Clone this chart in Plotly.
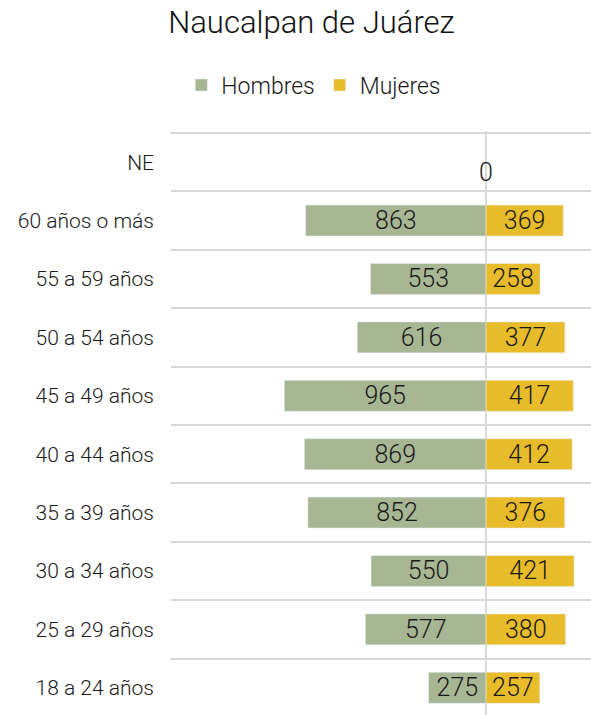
import plotly.graph_objects as go

# Age groups, top to bottom as in the chart
grupos = ['NE', '60 años o más', '55 a 59 años', '50 a 54 años', '45 a 49 años',
          '40 a 44 años', '35 a 39 años', '30 a 34 años', '25 a 29 años', '18 a 24 años']
hombres = [0, 863, 553, 616, 965, 869, 852, 550, 577, 275]
mujeres = [0, 369, 258, 377, 417, 412, 376, 421, 380, 257]

verde = '#A7B793'
oro = '#E8BC2A'
fuente = 'Roboto'
peso = 300

fig = go.Figure()

# Hombres go to the left, so plot negative values but label with the real number
fig.add_trace(go.Bar(
    y=grupos[1:], x=[-v for v in hombres[1:]], name='Hombres', orientation='h',
    marker=dict(color=verde),
    text=[str(v) for v in hombres[1:]], textposition='inside', insidetextanchor='middle',
    constraintext='none', textangle=0,
    textfont=dict(size=25, color='#1a1a1a', family=fuente, weight=peso),
    hoverinfo='skip',
))
fig.add_trace(go.Bar(
    y=grupos[1:], x=mujeres[1:], name='Mujeres', orientation='h',
    marker=dict(color=oro),
    text=[str(v) for v in mujeres[1:]], textposition='inside', insidetextanchor='middle',
    constraintext='none', textangle=0,
    textfont=dict(size=25, color='#1a1a1a', family=fuente, weight=peso),
    hoverinfo='skip',
))

# NE row has zero in both series, only the label shows
fig.add_trace(go.Scatter(
    y=grupos[:1], x=mujeres[:1], mode='text', text=[str(mujeres[0])],
    textposition='bottom center', showlegend=False,
    textfont=dict(size=25, color='#1a1a1a', family=fuente, weight=peso),
    hoverinfo='skip',
))

fig.update_layout(
    width=591, height=715,
    margin=dict(l=171, r=0, t=131, b=0),
    paper_bgcolor='white', plot_bgcolor='white',
    barmode='relative', bargap=0.47,
    font=dict(family=fuente, color='#1a1a1a', weight=peso),
    title=dict(text='Naucalpan de Juárez', x=0.527, xref='container', xanchor='center',
               y=0.969, yref='container', yanchor='middle',
               font=dict(size=31, color='#111111', family=fuente, weight=peso)),
    legend=dict(orientation='h', x=0.531, xref='container', xanchor='center',
                y=0.881, yref='container', yanchor='middle',
                font=dict(size=23, color='#1a1a1a', family=fuente, weight=peso),
                itemwidth=30, traceorder='normal'),
    xaxis=dict(range=[-1507, 502], showgrid=False, showticklabels=False,
               zeroline=True, zerolinecolor='#d9d9d9', zerolinewidth=2),
    yaxis=dict(type='category', categoryorder='array', categoryarray=grupos,
               range=[9.466, -0.534], tickson='boundaries', ticks='',
               showgrid=True, gridcolor='#d9d9d9', gridwidth=2,
               ticklabelstandoff=16, zeroline=False,
               tickfont=dict(size=21, color='#1a1a1a', family=fuente, weight=peso)),
)

# drop the browser's default page margin so the figure sits at the window corner
fig.write_html("out.html", config={'displayModeBar': False},
               post_script="document.body.style.margin='0';")
